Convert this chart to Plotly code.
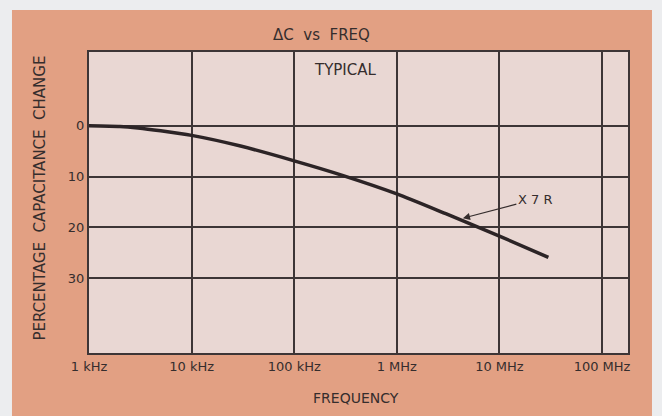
import math
import plotly.graph_objects as go

# Typical X7R capacitance drift against frequency
freq_hz = [1e3, 2e3, 3e3, 5e3, 1e4, 3e4, 1e5, 3e5, 1e6, 3e6, 1e7, 3e7]
cap_change_pct = [0, 0.15, 0.45, 1.0, 1.9, 4.0, 6.9, 9.8, 13.4, 17.3, 21.7, 25.9]

x_tickvals = [1e3, 1e4, 1e5, 1e6, 1e7, 1e8]
x_ticktext = ["1 kHz", "10 kHz", "100 kHz", "1 MHz", "10 MHz", "100 MHz"]
y_tickvals = [0, 10, 20, 30]
y_ticktext = ["0", "10", "20", "30"]

# Arrow target on the curve for the series label
label_freq_hz = 4.4e6
label_pct = 18.2

INK = "#352d2d"
GRID = "#3d3536"
PANEL = "#e2a083"
FIELD = "#e9d7d3"
FONT = "DejaVu Sans"

fig = go.Figure()
fig.add_trace(go.Scatter(
    x=freq_hz, y=cap_change_pct, mode="lines",
    line=dict(color="#2c2426", width=3.5, shape="spline", smoothing=0.6),
    hoverinfo="skip", showlegend=False,
))


def text_note(text, x, y, size, **kw):
    return dict(text=text, xref="paper", yref="paper", x=x, y=y,
                xanchor="center", yanchor="middle", showarrow=False,
                font=dict(size=size, color=INK, family=FONT), **kw)


fig.update_layout(
    width=662, height=416,
    margin=dict(l=89, r=34, t=52, b=63),
    paper_bgcolor="#ecedef",
    plot_bgcolor="rgba(0,0,0,0)",
    font=dict(family=FONT, color=INK, size=13),
    showlegend=False,
    shapes=[
        # orange card behind the chart
        dict(type="rect", xref="paper", yref="paper", layer="below",
             x0=-0.1429, x1=1.0445, y0=-0.35, y1=1.1395,
             fillcolor=PANEL, line=dict(width=0)),
        # pale plotting field
        dict(type="rect", xref="paper", yref="paper", layer="below",
             x0=0, x1=1, y0=0, y1=1,
             fillcolor=FIELD, line=dict(width=0)),
    ],
    xaxis=dict(
        type="log", range=[3, 8.253],
        tickvals=x_tickvals, ticktext=x_ticktext,
        showgrid=True, gridcolor=GRID, gridwidth=1.6,
        showline=True, linecolor=GRID, linewidth=2, mirror=True,
        ticks="", zeroline=False,
        tickfont=dict(size=13, color=INK, family=FONT),
    ),
    yaxis=dict(
        range=[44.7, -14.5],
        tickvals=y_tickvals, ticktext=y_ticktext,
        showgrid=True, gridcolor=GRID, gridwidth=1.6,
        showline=True, linecolor=GRID, linewidth=2, mirror=True,
        ticks="", zeroline=False,
        tickfont=dict(size=13, color=INK, family=FONT),
    ),
    annotations=[
        text_note("ΔC  vs  FREQ", 0.432, 1.0565, 15),
        text_note("TYPICAL", 0.4768, 0.940, 15),
        text_note("FREQUENCY", 0.496, -0.150, 14),
        text_note("PERCENTAGE  CAPACITANCE  CHANGE", -0.0909, 0.513, 15,
                  textangle=-90),
        dict(text="X 7 R", x=math.log10(label_freq_hz), y=label_pct,
             xref="x", yref="y", ax=72, ay=-19,
             showarrow=True, arrowhead=2, arrowsize=1.2,
             arrowwidth=1.2, arrowcolor=INK,
             font=dict(size=13, color=INK, family=FONT)),
    ],
)

fig.write_html("out.html")
